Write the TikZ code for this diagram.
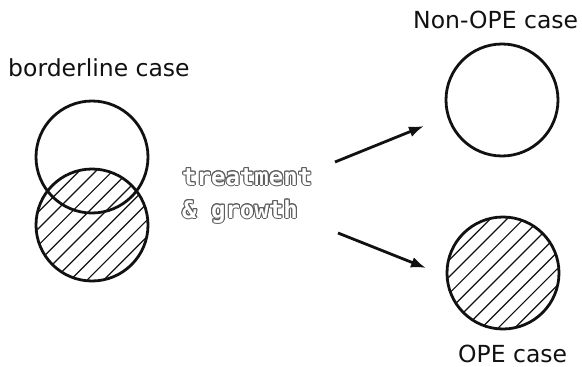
\documentclass[tikz,border=0pt]{standalone}
\usepackage{fontspec}
\setmainfont{DejaVu Sans}
\newfontfamily\hollowfont{DejaVu Sans Mono Bold}
\usepackage{contour}
\contourlength{1.0pt}
\usepackage{tikz}
\usetikzlibrary{arrows.meta}
\definecolor{Ink}{HTML}{111111}
\definecolor{Rim}{HTML}{5E5E5E}
\newcommand{\hollow}[1]{\textcolor{white}{\contour{Rim}{#1}}}

\begin{document}
\begin{tikzpicture}[x=1pt,y=-1pt,
  ring/.style={circle,draw=Ink,line width=2.8pt,minimum size=112pt,inner sep=0pt},
  hatched/.style={ring,path picture={
    \foreach \k in {-8,...,8}
      \draw[Ink,line width=1.2pt]
        ([xshift=\k*16.7pt-75pt,yshift=-75pt]path picture bounding box.center) -- ++(150pt,150pt);}},
  lbl/.style={font=\fontsize{23.5}{28}\selectfont,text=Ink,inner sep=0pt,text depth=0pt,anchor=base west},
  hol/.style={font=\hollowfont\fontsize{24}{30}\selectfont,inner sep=0pt,anchor=base west},
  arr/.style={-{Latex[length=15pt,width=11pt]},line width=2.8pt,color=Ink}]
\useasboundingbox (0,0) rectangle (582,367);
% left: borderline case
\node[lbl] (border) at (8,76.5) {borderline case};
\node[hatched] (low) at (92,225) {};
\node[ring] (up) at (92,157) {};
% middle text
\node[hol] (treat) at (182,185) {\hollow{treatment}};
\node[hol] (grow) at (182,218) {\hollow{\& growth}};
% right: outcomes
\node[lbl] (nonope) at (413,28) {Non-OPE case};
\node[ring] (clear) at (502,100) {};
\node[hatched] (ope) at (503,273) {};
\node[lbl] (opecase) at (458,362) {OPE case};
% arrows
\coordinate (a1) at (335,162);
\coordinate (b1) at (424,126);
\coordinate (a2) at (338,233);
\coordinate (b2) at (426,268);
\foreach \a/\b in {a1/b1,a2/b2}
  \draw[arr] (\a) -- (\b);
\end{tikzpicture}
\end{document}
